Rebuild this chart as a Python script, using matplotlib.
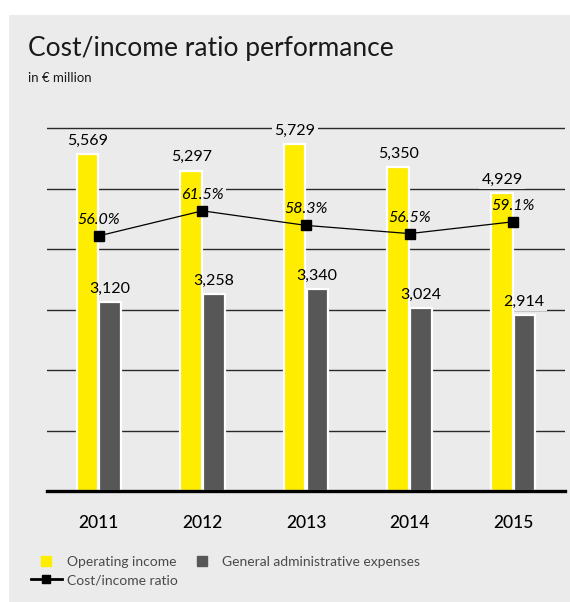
import matplotlib.pyplot as plt
import numpy as np
from matplotlib.lines import Line2D
from matplotlib.patches import Rectangle
from matplotlib.transforms import offset_copy

# --- data ---
YEARS = ["2011", "2012", "2013", "2014", "2015"]
OPERATING_INCOME = [5569, 5297, 5729, 5350, 4929]
ADMIN_EXPENSES = [3120, 3258, 3340, 3024, 2914]
COST_INCOME_RATIO = [56.0, 61.5, 58.3, 56.5, 59.1]

YELLOW = "#ffed00"
DARK = "#575757"
PANEL = "#ebebeb"
FONT = "Lato"

W, H = 570, 602
Y_MAX = 6300
RATIO_SCALE = 75.3  # ratio axis shares the bar axis: 1 % ~ 75.3 units

plt.rcParams["font.family"] = [FONT, "DejaVu Sans"]

fig = plt.figure(figsize=(W / 100, H / 100), dpi=100)
fig.patch.set_facecolor("white")
fig.patches.append(
    Rectangle((9 / W, 0), 1 - 9 / W, 1 - 15 / H, transform=fig.transFigure,
              facecolor=PANEL, edgecolor="none", zorder=-10)
)

fig.text(28 / W, 1 - 56 / H, "Cost/income ratio performance", fontsize=19,
         color="#1a1a1a", ha="left", va="baseline")
fig.text(28 / W, 1 - 82 / H, "in € million", fontsize=9.5,
         color="#1a1a1a", ha="left", va="baseline")

ax_h = Y_MAX * 0.0605
ax = fig.add_axes([47 / W, (H - 491) / H, (565 - 47) / W, ax_h / H])
ax.set_facecolor("none")

x = np.arange(len(YEARS))
bw = 0.21
ax.bar(x - bw / 2 - 0.005, OPERATING_INCOME, bw, color=YELLOW,
       edgecolor="white", linewidth=1.6, zorder=3)
ax.bar(x + bw / 2 + 0.005, ADMIN_EXPENSES, bw, color=DARK,
       edgecolor="white", linewidth=1.6, zorder=3)

ax.set_xlim(-0.5, 4.5)
ax.set_ylim(0, Y_MAX)
ax.set_yticks(np.arange(1000, 6001, 1000))
ax.yaxis.grid(True, color="#2a2a2a", linewidth=1.0, zorder=1)
ax.tick_params(axis="y", length=0, labelleft=False)
ax.set_xticks(x, YEARS)
ax.tick_params(axis="x", length=0, pad=17, labelsize=12.5)
for lbl in ax.get_xticklabels():
    lbl.set_fontweight("medium")
for side in ("top", "left", "right"):
    ax.spines[side].set_visible(False)
ax.spines["bottom"].set_linewidth(2.4)
ax.spines["bottom"].set_color("black")
ax.spines["bottom"].set_zorder(4)

ax2 = ax.twinx()
ax2.set_ylim(0, Y_MAX / RATIO_SCALE)
ax2.axis("off")
ax2.plot(x, COST_INCOME_RATIO, color="black", linewidth=0.9, marker="s",
         markersize=7.5, zorder=5)


def label(axis, xv, yv, text, dy, transform=None, italic=False):
    # masking box sits under the bars, the text itself on top
    kw = dict(ha="center", va="center", fontsize=11.5,
              style="italic" if italic else "normal")
    tr = transform if transform is not None else axis.transData
    off = offset_copy(tr, fig=fig, y=dy, units="points")
    ax.text(xv, yv, text, color=PANEL, transform=off, zorder=2,
            bbox=dict(boxstyle="square,pad=0.15", facecolor=PANEL, edgecolor="none"), **kw)
    axis.text(xv, yv, text, color="black", transform=off, zorder=6, **kw)


for i in range(len(YEARS)):
    label(ax, x[i] - bw / 2, OPERATING_INCOME[i], f"{OPERATING_INCOME[i]:,}", 9.5)
    label(ax, x[i] + bw / 2, ADMIN_EXPENSES[i], f"{ADMIN_EXPENSES[i]:,}", 9.5)
    label(ax2, x[i], COST_INCOME_RATIO[i], f"{COST_INCOME_RATIO[i]:.1f}%", 11.5,
          transform=ax2.transData, italic=True)

handles = [
    Line2D([], [], linestyle="none", marker="s", markersize=7,
           color=YELLOW, markeredgecolor=YELLOW),
    Line2D([], [], color="black", linewidth=2, marker="s", markersize=6),
    Line2D([], [], linestyle="none", marker="s", markersize=7,
           color=DARK, markeredgecolor=DARK),
]
labels = ["Operating income", "Cost/income ratio", "General administrative expenses"]
fig.legend(handles, labels, loc="upper left", bbox_to_anchor=(31 / W, 1 - 556 / H),
           ncol=2, frameon=False, handlelength=2.2,
           handletextpad=0.4, columnspacing=0.6, labelspacing=0.45,
           borderpad=0, borderaxespad=0, labelcolor="#4a4a4a",
           prop={"family": FONT, "size": 10})

fig.savefig("out.png", dpi=100)
